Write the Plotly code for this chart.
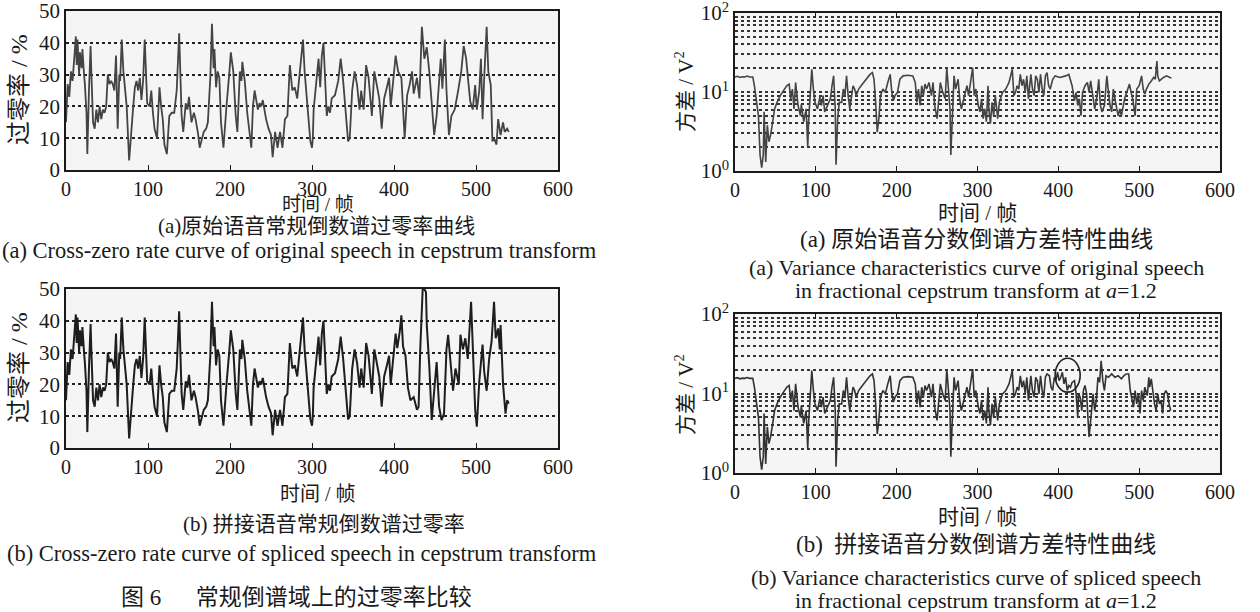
import plotly.graph_objects as go

# ---------------- data (frame, value) ----------------
# Zero-crossing rate, shared part of original / spliced speech (frames 0-402)
ZCR_HEAD = [
    (0, 15), (2, 27), (4, 23), (6, 31), (8, 28), (10, 36), (12, 42), (13, 33), (14, 41), (16, 30),
    (17, 37), (19, 32), (20, 38), (22, 30), (23, 27), (25, 18), (26, 5), (28, 25), (30, 39), (31, 30),
    (33, 15), (35, 13), (37, 19), (39, 15), (41, 20), (43, 16), (45, 19), (47, 18), (49, 20), (51, 30),
    (53, 27), (55, 28), (57, 27), (59, 25), (61, 36), (63, 13), (65, 30), (66, 28), (68, 41), (70, 31),
    (72, 25), (74, 20), (77, 3), (80, 15), (82, 20), (84, 26), (86, 28), (88, 25), (90, 29), (92, 22),
    (94, 28), (96, 41), (98, 29), (99, 21), (102, 20), (104, 25), (106, 18), (108, 13), (111, 10), (114, 26),
    (116, 20), (118, 16), (120, 8), (123, 5), (126, 17), (129, 18), (132, 18), (135, 25), (138, 43), (140, 24),
    (141, 17), (143, 12), (146, 21), (148, 19), (150, 23), (153, 15), (156, 18), (158, 16), (161, 11.5), (163, 7),
    (166, 10), (168, 12), (171, 13), (173, 15), (176, 29), (178, 46), (180, 32), (181, 38), (183, 26), (185, 31),
    (187, 29), (189, 15), (192, 7), (194, 16), (196, 21), (199, 30), (201, 37), (203, 33), (204, 31), (207, 17),
    (209, 12), (212, 31), (214, 28), (215, 34), (217, 30), (218, 28), (221, 18), (224, 10), (226, 7), (228, 20),
    (230, 25), (232, 22), (234, 19), (236, 21), (238, 20), (240, 22), (242, 19), (244, 16), (247, 13), (250, 11),
    (252, 4), (255, 12), (258, 7), (261, 12), (264, 7), (267, 16), (270, 17), (273, 33), (276, 25), (279, 26),
    (282, 22.5), (285, 31), (287, 35), (289, 41), (291, 31), (293, 24), (295, 17), (298, 9), (300, 7), (301, 10),
    (302, 19), (305, 28), (308, 35), (310, 26), (312, 36), (314, 40), (316, 26), (318, 17), (320, 20), (322, 18),
    (324, 22.5), (328, 23.5), (332, 28), (335, 35), (338, 28), (341, 17), (344, 9), (346, 10), (349, 25), (352, 31),
    (355, 26.7), (358, 19), (360, 25), (363, 19), (366, 33), (369, 29), (373, 17), (376, 31), (379, 26.7), (382, 22.5),
    (385, 13), (388, 22.5), (391, 25.6), (394, 29), (396, 20), (399, 28), (402, 36),
]
ZCR_A_TAIL = [
    (405, 31), (409, 29), (413, 10), (416, 23.5), (419, 26.7), (422, 31), (424, 24), (428, 29), (431, 22.5), (434, 45),
    (437, 35), (440, 38.6), (443, 31), (446, 20), (449, 11), (452, 17), (457, 35), (459, 25.6), (462, 41), (464, 25),
    (467, 11), (470, 17), (474, 19), (478, 24.6), (482, 31), (485, 39), (488, 35), (491, 26.7), (493, 21.5), (496, 19),
    (499, 26.7), (501, 19), (504, 25), (506, 35), (508, 16), (510, 29), (513, 45), (515, 31), (518, 26.7), (520, 9),
    (522, 10), (525, 8), (527, 16), (530, 11), (533, 15), (535, 12), (538, 13), (540, 12),
]
ZCR_B_TAIL = [
    (404, 31.4), (407, 36.6), (409, 41.7), (411, 32), (414, 29), (417, 19), (420, 15), (424, 16), (428, 12), (430, 13),
    (432, 31), (435, 50), (437, 50), (439, 49), (440, 38.6), (443, 26), (446, 8.8), (449, 18), (452, 27), (455, 13),
    (458, 8.8), (461, 10.8), (464, 31), (466, 35.6), (469, 26), (472, 18), (475, 25), (479, 20), (481, 35.6), (484, 31),
    (487, 34.5), (490, 28), (494, 46), (496, 31), (499, 12), (501, 6.7), (504, 21), (508, 32.5), (510, 24), (513, 18),
    (516, 28), (519, 33.5), (522, 46), (524, 34.5), (527, 37.6), (529, 31), (530, 38.7), (533, 20), (536, 10.8),
    (538, 15), (540, 14),
]

# Variance (V^2), shared part of original / spliced speech (frames 0-386)
VAR_HEAD = [
    (0, 15.5), (3, 15.8), (6, 15.3), (9, 15.6), (12, 15.5), (15, 15.9), (18, 15.5), (22, 15.5), (24, 12), (26, 8.2),
    (29, 5), (31, 1.6), (33, 1.1), (35, 1.6), (36, 5.6), (38, 1.3), (40, 3.8), (42, 2.35), (44, 2.84), (46, 3.8),
    (49, 6.1), (52, 7.4), (56, 9), (60, 10.4), (64, 12), (67, 12.6), (69, 8.2), (71, 10.9), (73, 6.1), (75, 13.2),
    (77, 8.2), (78, 6.75), (81, 5), (82, 7), (85, 4.2), (88, 6.1), (90, 2.0), (91, 4.2), (93, 9), (95, 19.4),
    (97, 10.9), (99, 7.4), (102, 6.1), (105, 8.6), (107, 6.75), (109, 9), (111, 5.6), (114, 6.75), (118, 8.2), (120, 12),
    (122, 16), (124, 6.1), (125, 1.2), (127, 4.6), (129, 7.4), (132, 7.4), (134, 10.9), (136, 9), (138, 16), (140, 9),
    (142, 6.1), (146, 12), (148, 10.9), (150, 9), (153, 10.9), (156, 12), (159, 13.2), (162, 14.5), (165, 16), (167, 16.7),
    (170, 17.6), (172, 14.5), (174, 7.4), (176, 3.1), (178, 4.6), (180, 9), (183, 10.9), (186, 9.9), (189, 13.2), (192, 16.7),
    (194, 9.9), (196, 7.8), (198, 9), (201, 9.9), (204, 14.5), (208, 16), (214, 16.3), (220, 16), (223, 13.2), (225, 7.4),
    (227, 10.9), (229, 6.75), (231, 12), (233, 9), (235, 12.6), (237, 10.9), (240, 13.2), (243, 9), (245, 13.2), (247, 6.75),
    (250, 4.6), (252, 9), (254, 13.2), (257, 9.9), (260, 8.2), (262, 20.3), (264, 9.9), (266, 6.1), (267, 1.6), (269, 5.6),
    (271, 16), (273, 10.9), (276, 14.5), (278, 8.2), (280, 6.1), (283, 8.2), (287, 12), (289, 9), (292, 16), (294, 20.3),
    (296, 9), (298, 10.9), (301, 6.75), (303, 5.6), (305, 8.2), (307, 4.6), (309, 6.1), (311, 4.2), (313, 12), (314, 6.1),
    (316, 4.0), (318, 7.4), (320, 5), (322, 9), (325, 4.6), (327, 7.4), (331, 9.9), (335, 10.9), (339, 13.2), (343, 19.4),
    (345, 9), (347, 9.9), (349, 12), (351, 10.9), (353, 16.7), (355, 12), (357, 14.5), (359, 9.9), (361, 16), (363, 8.2),
    (366, 16.7), (368, 10.9), (370, 9), (372, 16), (374, 14.5), (376, 9.9), (378, 16.7), (380, 10.9), (382, 9), (384, 16),
    (386, 17.6),
]
VAR_A_TAIL = [
    (388, 12), (390, 10.9), (393, 14.5), (396, 16), (402, 15.3), (409, 16), (413, 16.7), (417, 12), (420, 7.8), (422, 9.9),
    (424, 6.75), (426, 8.2), (428, 5), (430, 9.9), (433, 12), (436, 13.2), (438, 9.9), (440, 13.8), (443, 8.2), (445, 6.1),
    (448, 9), (450, 14.5), (452, 6.75), (454, 5.6), (457, 6.75), (460, 16), (462, 9.9), (464, 6.75), (466, 5.6), (468, 10.9),
    (470, 8.2), (472, 6.1), (474, 5), (476, 6.1), (478, 5), (482, 8.2), (486, 10.9), (488, 12.6), (490, 9.9), (492, 8.2),
    (495, 5), (497, 10.9), (500, 12), (503, 16), (505, 10.9), (507, 9.4), (509, 10.9), (512, 12.6), (515, 13.8), (518, 15.3),
    (520, 14.5), (522, 24.6), (523, 16), (525, 13.8), (530, 15.3), (534, 16), (538, 15.3), (540, 15),
]
VAR_B_TAIL = [
    (389, 16.7), (391, 12), (393, 10.9), (395, 16), (397, 14.5), (399, 18.5), (401, 14.5), (403, 16), (405, 18.5), (407, 13.2),
    (409, 16), (411, 10.9), (413, 12.6), (415, 12), (417, 13.8), (420, 14.5), (422, 9.9), (424, 5), (425, 9.9), (427, 9),
    (429, 6.1), (431, 10.9), (433, 12.6), (435, 9.9), (436, 6.1), (438, 2.84), (440, 4.6), (442, 7.4), (443, 9.9), (445, 6.1),
    (447, 8.2), (449, 16), (451, 13.8), (453, 25.8), (455, 14.5), (457, 10.9), (459, 16.7), (462, 16), (466, 17.6), (470, 16),
    (474, 16.7), (478, 15.3), (481, 16.7), (484, 17.6), (487, 17.6), (489, 10.9), (491, 8.2), (493, 6.75), (495, 10.9), (497, 7.4),
    (499, 9.9), (501, 5.6), (503, 10.9), (505, 8.2), (507, 12), (510, 9.4), (512, 16), (513, 12), (515, 15.3), (517, 9.9),
    (519, 7.4), (521, 6.1), (523, 9.9), (525, 7.4), (527, 8.2), (529, 5.6), (531, 9.9), (533, 10.9), (535, 9.9), (537, 7.4),
    (539, 6.1),
]
# hand-drawn mark in panel (b) right: frame span and value span
MARK_FRAMES = (396, 427)
MARK_VALUES = (10.4, 27.7)

X_TICKS = [0, 100, 200, 300, 400, 500, 600]
ZCR_TICKS = [0, 10, 20, 30, 40, 50]
VAR_MAJOR = [1, 10, 100]
VAR_MAJOR_TEXT = ["10<sup>0</sup>", "10<sup>1</sup>", "10<sup>2</sup>"]
VAR_MINOR = [2, 3, 4, 5, 6, 7, 8, 9, 20, 30, 40, 50, 60, 70, 80, 90]

# ---------------- figure ----------------
W, H = 1260, 612
SERIF = "Liberation Serif, Noto Sans CJK SC"
CJK = "Liberation Serif, Noto Sans CJK SC"
INK = "#1a1a1a"
GRIDDASH = "3px,3px"


def xs(p):
    return [a for a, _ in p]


def ys(p):
    return [b for _, b in p]


zcr_a = ZCR_HEAD + ZCR_A_TAIL
zcr_b = ZCR_HEAD + ZCR_B_TAIL
var_a = VAR_HEAD + VAR_A_TAIL
var_b = VAR_HEAD + VAR_B_TAIL

fig = go.Figure()
fig.add_trace(go.Scatter(x=xs(zcr_a), y=ys(zcr_a), mode="lines", line=dict(color="#444", width=1.8),
                         xaxis="x", yaxis="y", showlegend=False))
fig.add_trace(go.Scatter(x=xs(zcr_b), y=ys(zcr_b), mode="lines", line=dict(color="#1e1e1e", width=2.0),
                         xaxis="x2", yaxis="y2", showlegend=False))
fig.add_trace(go.Scatter(x=xs(var_a), y=ys(var_a), mode="lines", line=dict(color="#444", width=1.6),
                         xaxis="x3", yaxis="y3", showlegend=False))
fig.add_trace(go.Scatter(x=xs(var_b), y=ys(var_b), mode="lines", line=dict(color="#333", width=1.6),
                         xaxis="x4", yaxis="y4", showlegend=False))


def px_x(v):
    return v / W


def px_y(v):
    return 1 - v / H


def xaxis(domain, anchor, mirror=True):
    return dict(domain=domain, anchor=anchor, range=[0, 600], tickvals=X_TICKS, automargin=False,
                ticklabeloverflow="allow",
                ticks="inside", ticklen=5, tickcolor=INK, showgrid=False, zeroline=False,
                showline=True, mirror=mirror, linecolor=INK, linewidth=1.5,
                tickfont=dict(family=SERIF, size=20, color=INK))


def zcr_axis(domain, anchor):
    return dict(domain=domain, anchor=anchor, range=[0, 50], tickvals=ZCR_TICKS, automargin=False,
                ticklabeloverflow="allow",
                ticks="", showgrid=True, griddash=GRIDDASH, gridcolor="#222", gridwidth=1.5,
                zeroline=False, showline=True, mirror=True, linecolor=INK, linewidth=1.5,
                tickfont=dict(family=SERIF, size=21, color=INK))


def var_axis(domain, anchor):
    return dict(domain=domain, anchor=anchor, type="log", range=[0, 2], automargin=False,
                ticklabeloverflow="allow",
                tickvals=VAR_MAJOR, ticktext=VAR_MAJOR_TEXT,
                ticks="", showgrid=True, griddash=GRIDDASH, gridcolor="#333", gridwidth=1.5,
                minor=dict(tickvals=VAR_MINOR, showgrid=True, griddash=GRIDDASH,
                           gridcolor="#333", gridwidth=1.5, ticks=""),
                zeroline=False, showline=True, mirror=True, linecolor=INK, linewidth=1.5,
                tickfont=dict(family=SERIF, size=21, color=INK))


LX = [px_x(66), px_x(558)]
RX = [px_x(735), px_x(1220)]
fig.update_layout(
    width=W, height=H, margin=dict(l=0, r=0, t=0, b=0, autoexpand=False),
    paper_bgcolor="white", plot_bgcolor="#f5f5f5",
    xaxis=xaxis(LX, "y"), yaxis=zcr_axis([px_y(170), px_y(11)], "x"),
    xaxis2=xaxis(LX, "y2"), yaxis2=zcr_axis([px_y(448), px_y(289)], "x2"),
    xaxis3=xaxis(RX, "y3", "ticks"), yaxis3=var_axis([px_y(171), px_y(13)], "x3"),
    xaxis4=xaxis(RX, "y4", "ticks"), yaxis4=var_axis([px_y(473), px_y(314)], "x4"),
)

fig.add_shape(type="circle", xref="x4", yref="y4",
              x0=MARK_FRAMES[0], x1=MARK_FRAMES[1], y0=MARK_VALUES[0], y1=MARK_VALUES[1],
              line=dict(color="#222", width=1.6))


def note(text, x, y, size=21, angle=0, family=CJK):
    fig.add_annotation(text=text, x=px_x(x), y=px_y(y), xref="paper", yref="paper",
                       showarrow=False, textangle=angle, xanchor="center", yanchor="middle",
                       font=dict(family=family, size=size, color=INK))


# y-axis titles
note("过零率 / %", 19, 90, size=24, angle=-90)
note("过零率 / %", 19, 368, size=24, angle=-90)
note("方差 / V<sup>2</sup>", 684, 92, size=21, angle=-90)
note("方差 / V<sup>2</sup>", 684, 395, size=21, angle=-90)

# left column texts
note("时间 / 帧", 318, 205, size=19)
note("(a)原始语音常规倒数谱过零率曲线", 316, 226)
note("(a) Cross-zero rate curve of original speech in cepstrum transform", 299, 250, size=22.5, family=SERIF)
note("时间 / 帧", 318, 494, size=20)
note("(b) 拼接语音常规倒数谱过零率", 324, 524)
note("(b) Cross-zero rate curve of spliced speech in cepstrum transform", 302, 553, size=22.5, family=SERIF)
note("图 6\u3000\u2002常规倒谱域上的过零率比较", 296, 597, size=23)

# right column texts
note("时间 / 帧", 977, 213, size=21)
note("(a) 原始语音分数倒谱方差特性曲线", 976, 240, size=23)
note("(a) Variance characteristics curve of original speech", 976, 267, size=22, family=SERIF)
note("in fractional cepstrum transform at <i>a</i>=1.2", 976, 290, size=22, family=SERIF)
note("时间 / 帧", 977, 517, size=21)
note("(b)\u2002拼接语音分数倒谱方差特性曲线", 976, 544, size=23)
note("(b) Variance characteristics curve of spliced speech", 976, 577, size=22, family=SERIF)
note("in fractional cepstrum transform at <i>a</i>=1.2", 976, 600, size=22, family=SERIF)

# place the figure at the window's top-left corner (no default page margin), no mode bar
fig.write_html("out.html", config={"displayModeBar": False},
               post_script="document.body.style.margin='0';")
